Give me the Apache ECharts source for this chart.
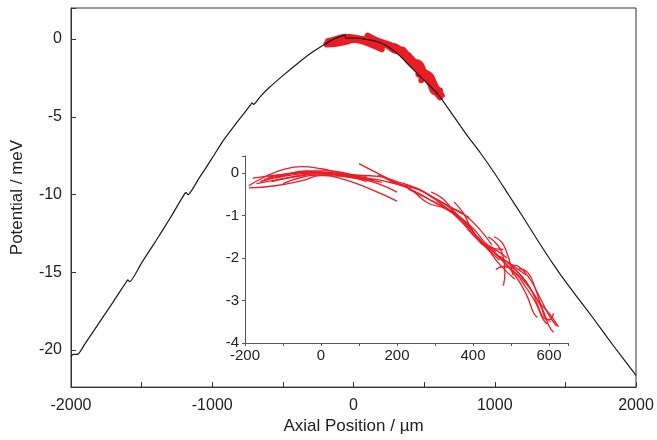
<!DOCTYPE html>
<html>
<head>
<meta charset="utf-8">
<script src="https://cdn.jsdelivr.net/npm/echarts@6/dist/echarts.min.js"></script>
<style>html,body{margin:0;padding:0;background:#fff}#c{width:657px;height:440px}</style>
</head>
<body>
<div id="c"></div>
<script>
// Main black potential curve [axial position µm, potential meV]
const potentialCurve = [
  [-2000,-20.45],[-1985,-20.3],[-1955,-20.3],[-1900,-19.6],[-1800,-18.25],[-1700,-16.9],
  [-1610,-15.65],[-1598,-15.5],[-1585,-15.62],[-1500,-14.4],[-1400,-13.0],[-1300,-11.55],
  [-1195,-9.95],[-1185,-9.88],[-1172,-10.02],[-1100,-9.05],[-1000,-7.65],[-920,-6.5],
  [-820,-5.3],[-728,-4.22],[-719,-4.1],[-708,-4.2],[-660,-3.7],[-600,-3.15],[-500,-2.35],
  [-400,-1.6],[-300,-0.9],[-200,-0.32],[-150,-0.05],[-100,0.14],[-60,0.25],[-55,0.05],
  [0,0.07],[50,0.04],[100,-0.03],[150,-0.12],[200,-0.27],[250,-0.52],[300,-0.85],[330,-1.1],
  [400,-1.75],[448,-2.19],[500,-2.65],[600,-3.57],[700,-4.85],[800,-6.15],[900,-7.35],
  [1000,-8.65],[1100,-10.05],[1200,-11.45],[1300,-12.9],[1415,-14.5],[1500,-15.6],
  [1600,-16.8],[1700,-18.0],[1800,-19.25],[1900,-20.45],[2000,-21.65]
];
// Measured potential runs (inset) [axial position µm, potential meV]
const run01 = [[-190,-0.3],[-150,-0.1],[-100,0.08],[-50,0.15],[0,0.1],[50,0.0],[100,-0.1]];
const run02 = [[-190,-0.35],[-120,-0.3],[-50,-0.18],[0,-0.06],[60,-0.08],[120,-0.2]];
const run03 = [[-180,-0.12],[-120,-0.05],[-60,0.0],[0,0.02],[80,-0.05],[140,-0.17]];
const run04 = [[-150,-0.15],[-100,-0.05],[-50,0.02],[0,0.02],[60,-0.08],[110,-0.15]];
const run05 = [[-130,-0.2],[-80,-0.1],[-20,-0.02],[40,-0.05],[100,-0.13],[150,-0.25],[200,-0.45]];
const run06 = [[-100,-0.25],[-50,-0.1],[0,-0.05],[60,-0.15],[130,-0.38],[200,-0.66]];
const run07 = [[-160,-0.2],[-100,-0.07],[-40,0.05],[20,0.05],[80,-0.03],[120,-0.08]];
const run08 = [[100,0.22],[130,0.08],[170,-0.1],[220,-0.3],[260,-0.4],[300,-0.6],[330,-0.75]];
const run09 = [[20,-0.02],[80,-0.05],[150,-0.08],[200,-0.25],[250,-0.35],[300,-0.6],[350,-0.85],[390,-1.05]];
const run10 = [[150,-0.05],[200,-0.2],[240,-0.32],[290,-0.55],[340,-0.8],[380,-1.0],[420,-1.35],[450,-1.7]];
const run11 = [[180,-0.2],[230,-0.35],[280,-0.7],[330,-0.85],[370,-1.15],[410,-1.55],[440,-1.75],[480,-1.8]];
const run12 = [[290,-0.45],[320,-0.6],[350,-0.9],[390,-1.25],[420,-1.6],[450,-1.75],[490,-2.0]];
const run13 = [[350,-0.68],[375,-0.95],[395,-1.3],[420,-1.6],[460,-1.9],[500,-2.15],[540,-2.4]];
const run14 = [[440,-1.5],[465,-1.7],[480,-2.0],[484,-2.35],[480,-2.65]];
const run15 = [[470,-1.95],[500,-2.15],[520,-2.2],[550,-2.5],[580,-3.0],[600,-3.35],[620,-3.6]];
const run16 = [[490,-2.1],[520,-2.35],[550,-2.7],[570,-3.1],[585,-3.4],[600,-3.45],[612,-3.3]];
const run17 = [[500,-2.2],[530,-2.45],[560,-2.85],[585,-3.25],[600,-3.6],[612,-3.75]];
const run18 = [[420,-1.65],[460,-1.9],[500,-2.25],[540,-2.6],[575,-3.05],[600,-3.3],[625,-3.62]];
const run19 = [[400,-1.4],[440,-1.75],[470,-2.0],[510,-2.4],[540,-2.85],[560,-3.3],[570,-3.4]];
const run20 = [[-140,-0.1],[-90,-0.02],[-40,0.03],[10,0.0],[60,-0.06],[120,-0.12]];
const run21 = [[-170,-0.25],[-110,-0.15],[-60,-0.08],[-10,-0.02],[40,-0.02],[90,-0.1]];
const run22 = [[-120,-0.12],[-70,-0.04],[-20,0.0],[30,-0.02],[90,-0.1],[160,-0.22]];
const run23 = [[60,-0.05],[120,-0.12],[180,-0.22],[240,-0.4],[300,-0.7],[350,-0.95],[400,-1.35]];
const run24 = [[230,-0.38],[280,-0.6],[320,-0.78],[360,-1.0],[400,-1.3],[430,-1.62],[460,-1.85]];
const run25 = [[280,-0.5],[320,-0.75],[360,-1.05],[400,-1.45],[440,-1.8],[470,-2.05]];
const run26 = [[455,-1.5],[475,-1.62],[490,-1.9],[500,-2.2],[505,-2.4]];
const run27 = [[460,-2.27],[480,-2.2],[510,-2.35],[540,-2.7],[565,-3.05],[585,-3.45],[595,-3.55]];
const run28 = [[330,-0.75],[370,-1.1],[410,-1.5],[440,-1.8],[470,-2.15],[510,-2.5]];
const run29 = [[520,-2.25],[545,-2.35],[565,-2.75],[580,-3.15],[590,-3.4],[605,-3.5]];
const runs = [run01,run02,run03,run04,run05,run06,run07,run08,run09,run10,run11,run12,
              run13,run14,run15,run16,run17,run18,run19,run20,run21,run22,run23,run24,
              run25,run26,run27,run28,run29];

const mainXTicks = [-2000,-1000,0,1000,2000];
const mainYTicks = [-20,-15,-10,-5,0];
const insetXTicks = [-200,0,200,400,600];
const insetYTicks = [-4,-3,-2,-1,0];

const RED = '#ec1c24';
const FONT = 'Liberation Sans, Arial, sans-serif';

const series = [];
runs.forEach(r => series.push({
  type:'line', xAxisIndex:0, yAxisIndex:0, data:r, showSymbol:false, smooth:true,
  lineStyle:{color:RED, width:6, cap:'round', join:'round'}, z:2, silent:true, animation:false
}));
series.push({
  type:'line', xAxisIndex:0, yAxisIndex:0, data:potentialCurve, showSymbol:false, smooth:0.2,
  lineStyle:{color:'#1a1a1a', width:1.2}, z:5, silent:true, animation:false
});
runs.forEach(r => series.push({
  type:'line', xAxisIndex:1, yAxisIndex:1, data:r, showSymbol:false, smooth:true,
  lineStyle:{color:RED, width:1.3}, z:6, silent:true, animation:false
}));

const chart = echarts.init(document.getElementById('c'));
chart.setOption({
  animation:false,
  backgroundColor:'#fff',
  grid:[
    {left:71, right:21, top:8, bottom:49, show:true, borderColor:'#333', borderWidth:1, backgroundColor:'transparent'},
    {left:245, right:89, top:156, bottom:97}
  ],
  xAxis:[
    {gridIndex:0, type:'value', min:-2000, max:2000, interval:500,
     name:'Axial Position / µm', nameLocation:'middle', nameGap:28,
     nameTextStyle:{fontFamily:FONT, fontSize:17, color:'#222'},
     axisLine:{onZero:false, lineStyle:{color:'#333', width:1}},
     axisTick:{inside:true, length:5, lineStyle:{color:'#333'}},
     axisLabel:{fontFamily:FONT, fontSize:16, color:'#222', margin:10,
       formatter:v => mainXTicks.includes(v) ? String(v) : ''},
     splitLine:{show:false}},
    {gridIndex:1, type:'value', min:-200, max:650, interval:100,
     axisLine:{onZero:false, lineStyle:{color:'#555', width:1}},
     axisTick:{inside:false, length:3, lineStyle:{color:'#555'}},
     axisLabel:{fontFamily:FONT, fontSize:15, color:'#222', margin:5,
       formatter:v => insetXTicks.includes(v) ? String(v) : ''},
     splitLine:{show:false}}
  ],
  yAxis:[
    {gridIndex:0, type:'value', min:-22.4, max:2, splitNumber:5,
     name:'Potential / meV', nameLocation:'middle', nameGap:45, nameRotate:90,
     nameTextStyle:{fontFamily:FONT, fontSize:17, color:'#222'},
     axisLine:{show:true, onZero:false, lineStyle:{color:'#333', width:1}},
     axisTick:{show:true, inside:true, length:5, lineStyle:{color:'#333'}},
     axisLabel:{fontFamily:FONT, fontSize:16, color:'#222', margin:9,
       formatter:v => mainYTicks.includes(v) ? String(v) : ''},
     splitLine:{show:false}},
    {gridIndex:1, type:'value', min:-4, max:0.4, interval:1,
     axisLine:{show:true, onZero:false, lineStyle:{color:'#555', width:1}},
     axisTick:{show:true, inside:false, length:3, lineStyle:{color:'#555'}},
     axisLabel:{fontFamily:FONT, fontSize:15, color:'#222', margin:6,
       formatter:v => insetYTicks.includes(v) ? String(v) : ''},
     splitLine:{show:false}}
  ],
  series:series
});
</script>
</body>
</html>
